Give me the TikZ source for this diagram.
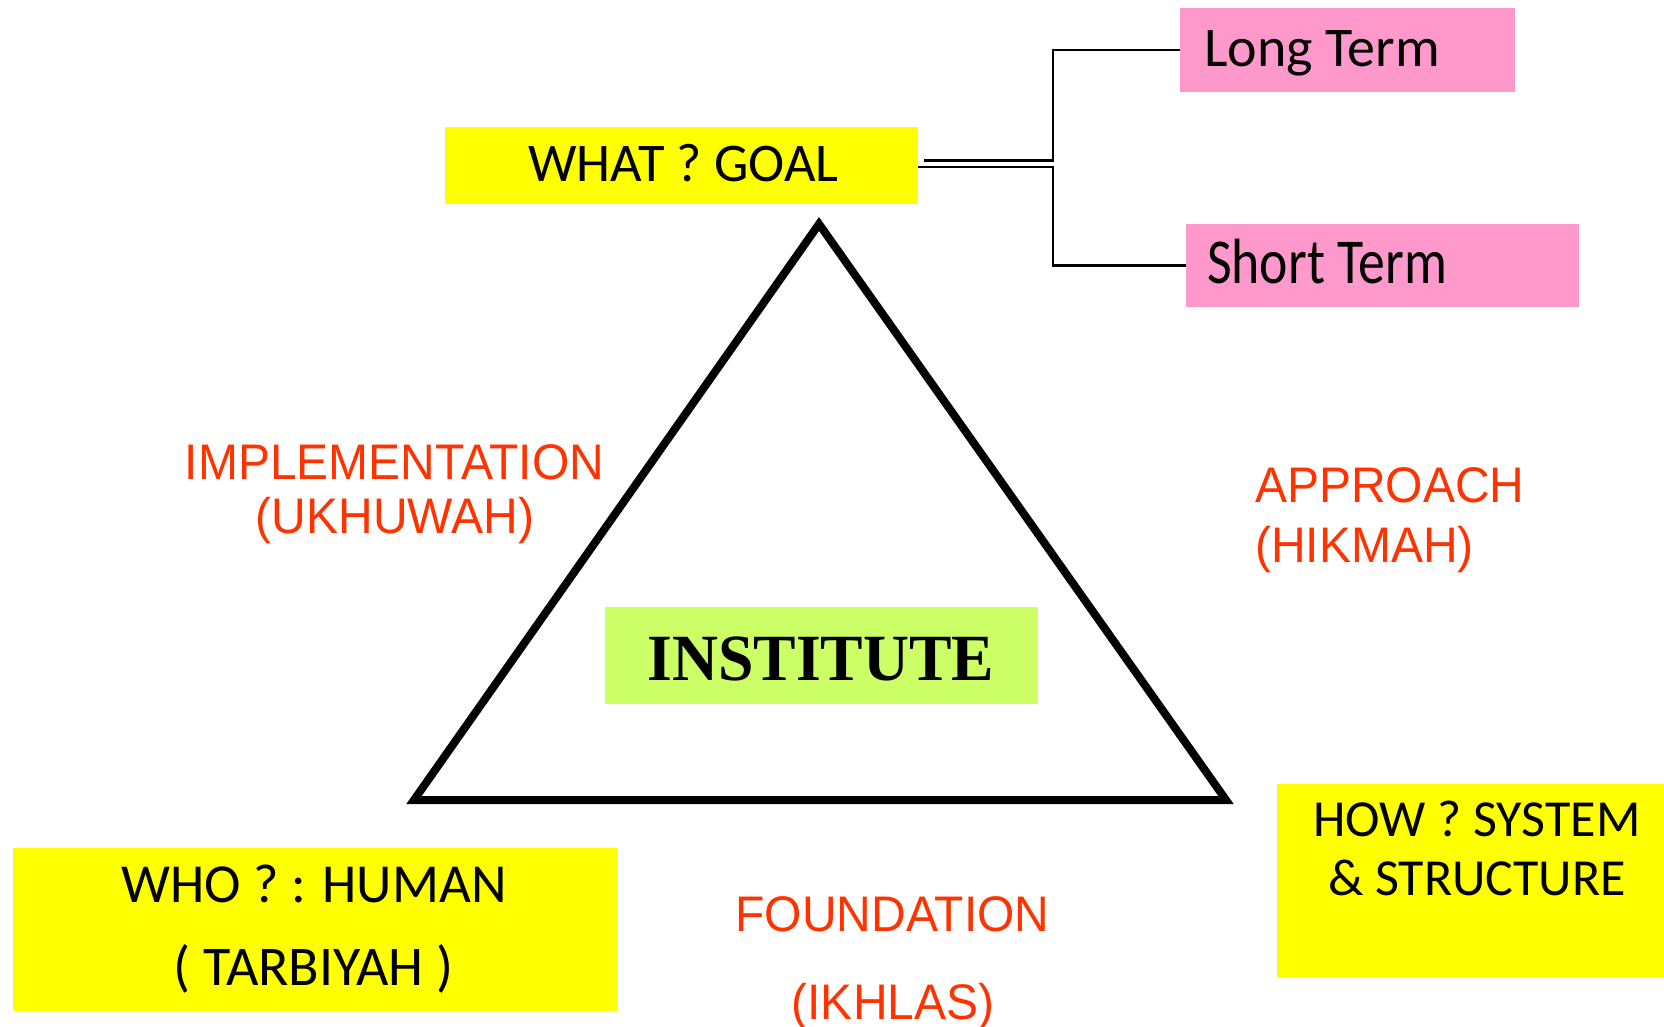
\documentclass[tikz,border=0pt]{standalone}
\usepackage{fontspec}
\newfontfamily\handfont{Carlito}
\newfontfamily\handnarrow[FakeStretch=0.84]{Carlito}
\newfontfamily\redfont[FakeStretch=0.96]{Liberation Sans}
\newfontfamily\instfont[FakeStretch=0.965]{Liberation Serif}
\definecolor{boxyellow}{HTML}{FFFF00}
\definecolor{boxpink}{HTML}{FF99CC}
\definecolor{boxgreen}{HTML}{CCFF66}
\definecolor{labelred}{HTML}{FF3300}
\tikzset{
  box/.style={inner sep=0pt, outer sep=0pt, draw=none},
  txt/.style={inner sep=0pt, outer sep=0pt, anchor=base},
  hand/.style={txt, font={\handfont\fontsize{#1}{#1}\selectfont}},
  handn/.style={txt, font={\handnarrow\fontsize{#1}{#1}\selectfont}},
  redlbl/.style={txt, text=labelred, font={\redfont\fontsize{50}{50}\selectfont}},
  conn/.style={line width=2.5pt, black},
  tri/.style={line width=8pt, black, miter limit=10}
}
\begin{document}
\begin{tikzpicture}[x=1pt,y=-1pt]
\useasboundingbox (0,0) rectangle (1664,1026);
% boxes
\node[box, fill=boxyellow, minimum width=473, minimum height=77] (what) at (681.5,165.5) {};
\node[box, fill=boxpink, minimum width=335, minimum height=84] (long) at (1347.5,50) {};
\node[box, fill=boxpink, minimum width=393, minimum height=83] (short) at (1382.5,265.5) {};
\node[box, fill=boxgreen, minimum width=433, minimum height=97] (inst) at (821.5,655.5) {};
\node[box, fill=boxyellow, minimum width=604, minimum height=163] (who) at (315,929.5) {};
\node[box, fill=boxyellow, minimum width=387, minimum height=193] (how) at (1470.5,880.5) {};
% triangle
\coordinate (apex) at (819,224);
\coordinate (bl) at (414,800);
\coordinate (br) at (1226,800);
\draw[tri] (apex) -- (bl) -- (br) -- cycle;
% connectors
\coordinate (j) at (1053,0);
\draw[conn] ([xshift=6pt,yshift=5pt]what.east) -| (j |- long.west) -- (long.west);
\draw[conn] ([yshift=-1.5pt]what.east) -| (j |- short.west) -- (short.west);
% box texts
\node[hand=54.5] (whatt) at (683.5,181) {WHAT ? GOAL};
\node[hand=56, anchor=base west] (longt) at (1204,66) {Long Term};
\node[handn=64, anchor=base west] (shortt) at (1207,283) {Short Term};
\node[hand=55] (who1) at (314,902) {WHO ? : HUMAN};
\node[hand=56] (who2) at (313.5,985) {( TARBIYAH )};
\node[hand=52] (how1) at (1477,836) {HOW ? SYSTEM};
\node[hand=52] (how2) at (1477,895) {\& STRUCTURE};
\node[txt, font={\instfont\bfseries\fontsize{66}{66}\selectfont}] (instt) at (821,680) {INSTITUTE};
% red labels
\node[redlbl] (impl1) at (394.5,479) {IMPLEMENTATION};
\node[redlbl] (impl2) at (395,533) {(UKHUWAH)};
\node[redlbl, anchor=base west] (appr1) at (1255,502) {APPROACH};
\node[redlbl, anchor=base west] (appr2) at (1255,562) {(HIKMAH)};
\node[redlbl] (found1) at (892.5,931) {FOUNDATION};
\node[redlbl] (found2) at (893,1019) {(IKHLAS)};
\end{tikzpicture}
\end{document}
